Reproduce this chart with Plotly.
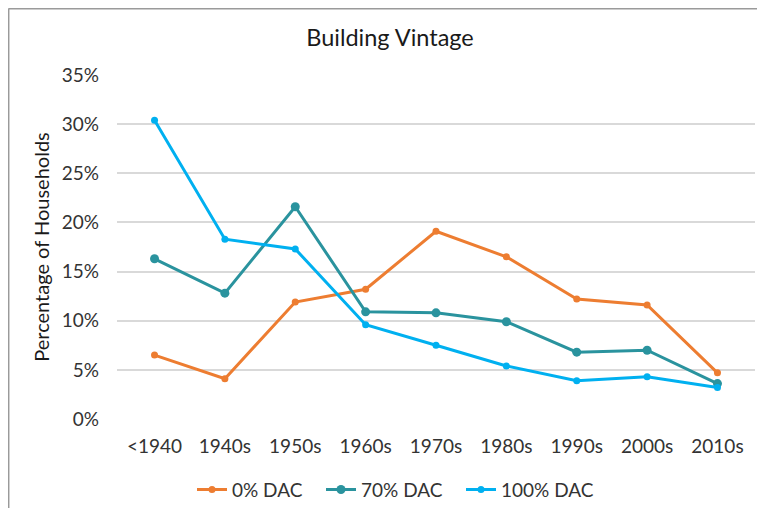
import plotly.graph_objects as go

categories = ["<1940", "1940s", "1950s", "1960s", "1970s", "1980s", "1990s", "2000s", "2010s"]
dac0 = [6.5, 4.1, 11.9, 13.2, 19.1, 16.5, 12.2, 11.6, 4.7]
dac70 = [16.3, 12.8, 21.6, 10.9, 10.8, 9.9, 6.8, 7.0, 3.6]
dac100 = [30.4, 18.3, 17.3, 9.6, 7.5, 5.4, 3.9, 4.3, 3.2]
tick_vals = [0, 5, 10, 15, 20, 25, 30, 35]
tick_text = ["0%", "5%", "10%", "15%", "20%", "25%", "30%", "35%"]

FONT = "Lato, Carlito, 'Open Sans', sans-serif"

# page has an 8px body margin on every side; keep the figure inside the window
# and lay out in figure coordinates = page - 8
OFF = 8
W, H = 765 - 2 * OFF, 516 - 2 * OFF
plot_left, plot_right, plot_top, plot_bottom = 117 - OFF, 755 - OFF, 75 - OFF, 419.3 - OFF
L, R, T, B = plot_left, W - plot_right, plot_top, H - plot_bottom
pw, ph = W - L - R, H - T - B


def px_x(p):
    return (p - OFF - L) / pw


def px_y(p):
    return (H - B - (p - OFF)) / ph


fig = go.Figure()
series = [
    ("0% DAC", dac0, "#ED7D31", 7, "legend", 234),
    ("70% DAC", dac70, "#2A939E", 9, "legend2", 363),
    ("100% DAC", dac100, "#00B0F0", 7, "legend3", 503),
]
legends = {}
for name, vals, color, msize, lg, text_x in series:
    fig.add_trace(go.Scatter(
        x=categories, y=vals, name=name, mode="lines+markers",
        line=dict(color=color, width=3),
        marker=dict(color=color, size=msize),
        legend=lg,
        cliponaxis=False,
    ))
    legends[lg] = dict(orientation="h", x=px_x(text_x - 42), xref="paper", xanchor="left",
                       y=px_y(490), yanchor="middle", bgcolor="rgba(0,0,0,0)",
                       font=dict(family=FONT, size=19, color="#333333"))

fig.update_layout(
    width=W, height=H,
    margin=dict(l=L, r=R, t=T, b=B, autoexpand=False),
    paper_bgcolor="white", plot_bgcolor="white",
    font=dict(family=FONT, size=19, color="#333333"),
    title=dict(text="Building Vintage", x=px_x(390), xref="paper", xanchor="center",
               y=1 - (38 - OFF) / H, yanchor="middle",
               font=dict(family=FONT, size=23.5, color="#1a1a1a")),
    xaxis=dict(showgrid=False, showline=False, ticks="", zeroline=False,
               ticklabelstandoff=14,
               tickfont=dict(family=FONT, size=19, color="#333333")),
    yaxis=dict(range=[0, 35], tickvals=tick_vals, ticktext=tick_text,
               showgrid=True, gridcolor="#D9D9D9", gridwidth=1.5,
               zeroline=False, showline=False, ticks="",
               ticklabelstandoff=17,
               title=dict(text="Percentage of Households", standoff=6,
                          font=dict(family=FONT, size=20, color="#1a1a1a")),
               tickfont=dict(family=FONT, size=19, color="#333333")),
    showlegend=True,
    shapes=[
        dict(type="line", xref="paper", yref="paper", x0=px_x(8.5), x1=px_x(780),
             y0=px_y(8.7), y1=px_y(8.7), line=dict(color="#9A9A9A", width=1.5)),
        dict(type="line", xref="paper", yref="paper", x0=px_x(8.7), x1=px_x(8.7),
             y0=px_y(8.5), y1=px_y(530), line=dict(color="#9A9A9A", width=1.5)),
    ],
    **legends,
)

fig.write_html("out.html")
